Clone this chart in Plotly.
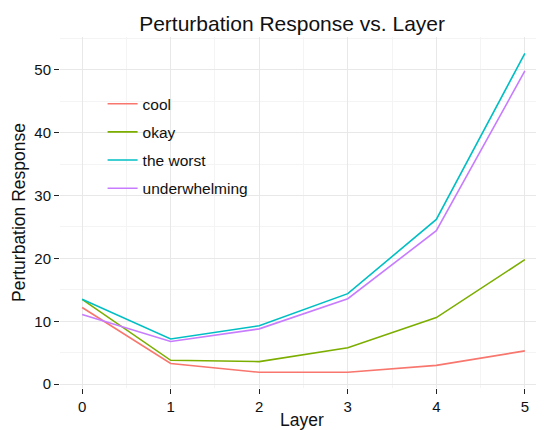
import plotly.graph_objects as go

layers = [0, 1, 2, 3, 4, 5]
series_names = ["cool", "okay", "the worst", "underwhelming"]
cool = [12.2, 3.3, 1.9, 1.9, 3.0, 5.3]
okay = [13.5, 3.8, 3.6, 5.8, 10.6, 19.8]
the_worst = [13.5, 7.2, 9.3, 14.4, 26.2, 52.6]
underwhelming = [11.1, 6.8, 8.8, 13.6, 24.4, 49.8]
colors = ["#F8766D", "#7CAE00", "#00BFC4", "#C77CFF"]
title = "Perturbation Response vs. Layer"
x_title = "Layer"
y_title = "Perturbation Response"
y_ticks = [0, 10, 20, 30, 40, 50]

FONT = "Liberation Sans, Arial, sans-serif"

fig = go.Figure()
for name, vals, col in zip(series_names, [cool, okay, the_worst, underwhelming], colors):
    fig.add_trace(go.Scatter(x=layers, y=vals, mode="lines", name=name,
                             legendgroup=name,
                             line=dict(color=col, width=1.6)))

axis_common = dict(
    showgrid=True, gridcolor="#e8e8e8", gridwidth=1,
    zeroline=False, showline=False, automargin=False,
    ticks="outside", ticklen=5, tickcolor="#222222", tickwidth=1,
    tickfont=dict(family=FONT, size=15, color="#111111"),
    title_font=dict(family=FONT, size=17.5, color="#111111"),
)

fig.update_layout(
    width=536, height=422,
    margin=dict(l=52, r=0, t=29, b=42),
    paper_bgcolor="white", plot_bgcolor="white",
    title=dict(text=title, x=0.53, xanchor="center", y=0.963, yanchor="middle",
               font=dict(family=FONT, size=21, color="#111111")),
    xaxis=dict(range=[-0.25, 5.216], tickmode="array", tickvals=layers,
               minor=dict(dtick=0.5, tick0=0.5, showgrid=True, gridcolor="#f4f4f4", ticks=""),
               title=dict(text=x_title, standoff=8), **axis_common),
    yaxis=dict(range=[-0.6, 55.2], tickmode="array", tickvals=y_ticks,
               minor=dict(dtick=5, tick0=5, showgrid=True, gridcolor="#f4f4f4", ticks=""),
               title=dict(text=y_title, standoff=4), **axis_common),
    legend=dict(x=0.088, y=0.857, xanchor="left", yanchor="top",
                bgcolor="rgba(0,0,0,0)", tracegroupgap=5,
                font=dict(family=FONT, size=15.5, color="#111111")),
)

fig.write_html("out.html")
